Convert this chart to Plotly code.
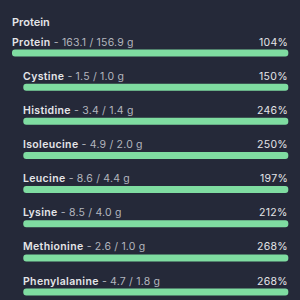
import plotly.graph_objects as go

names = ["Protein", "Cystine", "Histidine", "Isoleucine", "Leucine", "Lysine", "Methionine", "Phenylalanine"]
amounts = ["163.1", "1.5", "3.4", "4.9", "8.6", "8.5", "2.6", "4.7"]
targets = ["156.9", "1.0", "1.4", "2.0", "4.4", "4.0", "1.0", "1.8"]
percents = [104, 150, 246, 250, 197, 212, 268, 268]
section_title = "Protein"

BG = "#252939"
GREEN = "#7fdca1"
NAME_C = "#e4e5e8"
DETAIL_C = "#b3b6be"
FONT = "Inter"

W = H = 300
RIGHT = 288.3
ys = [53 + 34.15 * i for i in range(len(names))]
lefts = [12 if i == 0 else 23.3 for i in range(len(names))]
shown = [min(p, 100) for p in percents]
lengths = [s / 100 * (RIGHT - l) for s, l in zip(shown, lefts)]

fig = go.Figure()
fig.add_trace(go.Bar(x=lengths, y=ys, base=lefts, orientation="h", width=7,
                     marker=dict(color=GREEN, line=dict(width=0)), hoverinfo="skip"))

ann = [dict(text=f"<span style='font-weight:600'>{section_title}</span>", xref="x", yref="y", x=10, y=21.5,
            xanchor="left", yanchor="middle", showarrow=False,
            font=dict(family=FONT, size=11, color=NAME_C))]
for i, n in enumerate(names):
    ann.append(dict(
        text=(f"<span style='font-weight:600;letter-spacing:0.35px'>{n}</span>"
              f"<span style='color:{DETAIL_C};font-weight:400;letter-spacing:0.2px'> - {amounts[i]} / {targets[i]} g</span>"),
        xref="x", yref="y", x=lefts[i] - 2, y=ys[i] - 11, xanchor="left", yanchor="middle",
        showarrow=False, font=dict(family=FONT, size=10.5, color=NAME_C)))
    ann.append(dict(
        text=f"<span style='letter-spacing:0.3px'>{percents[i]}%</span>", xref="x", yref="y", x=RIGHT + 2, y=ys[i] - 11,
        xanchor="right", yanchor="middle", showarrow=False,
        font=dict(family=FONT, size=10.5, color=NAME_C)))

fig.update_layout(
    width=W, height=H, margin=dict(l=0, r=0, t=0, b=0),
    paper_bgcolor=BG, plot_bgcolor=BG, showlegend=False, barcornerradius="50%",
    xaxis=dict(domain=[0, 1], range=[0, W], visible=False, fixedrange=True),
    yaxis=dict(domain=[0, 1], range=[H, 0], visible=False, fixedrange=True),
    annotations=ann,
)
fig.write_html("out.html", config={"displayModeBar": False})
